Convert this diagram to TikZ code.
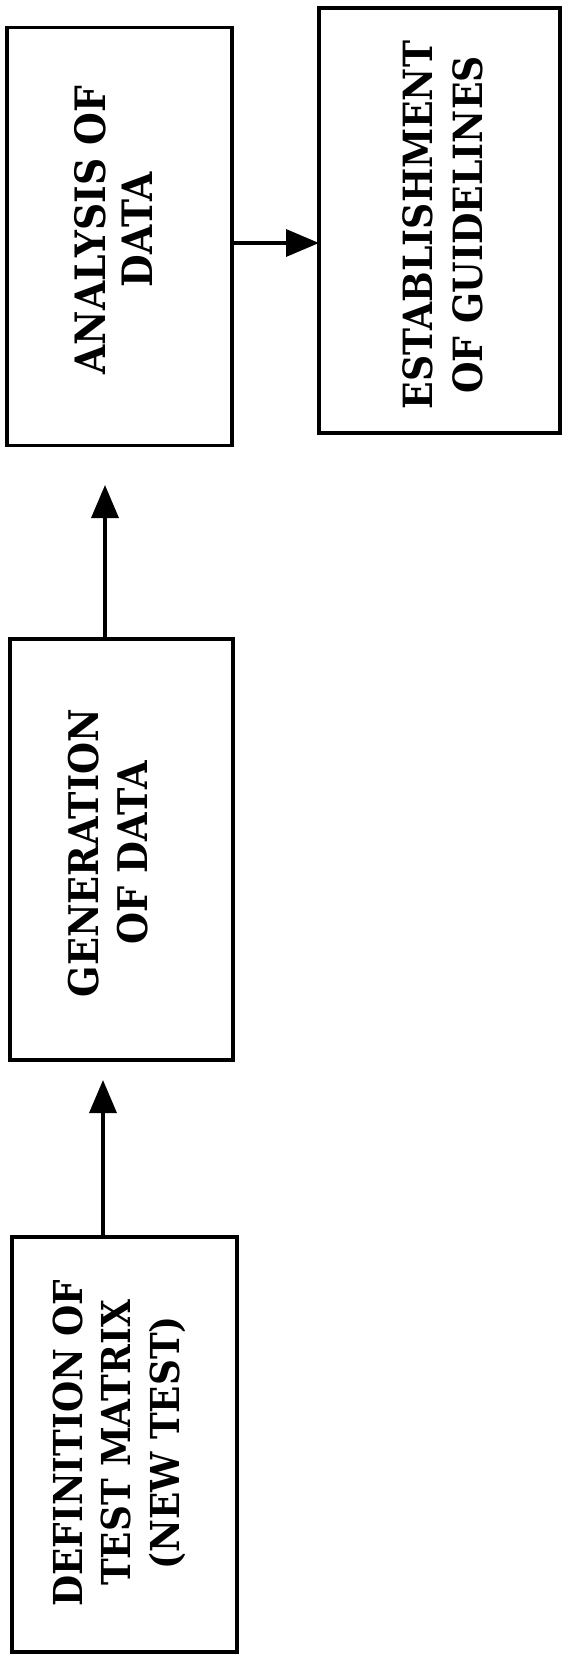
\documentclass[tikz,border=0pt]{standalone}
\usepackage{fontspec}
\setmainfont{DejaVu Serif}
\newfontfamily\labfont[FakeStretch=0.9]{DejaVu Serif}
\usetikzlibrary{arrows.meta}
\begin{document}
\begin{tikzpicture}[x=1bp,y=-1bp,
  box/.style={draw,line width=3.5bp,inner sep=0pt,outer sep=0pt},
  lbl/.style={rotate=90,align=center,inner sep=0pt},
  arr/.style={line width=3.5bp,-{Triangle[length=33bp,width=27bp]}}]
\useasboundingbox (0,0) rectangle (562,1655);
\fill[white] (0,0) rectangle (562,1655);
% boxes
\node[box,minimum width=225bp,minimum height=418bp] (ana) at (119.5,236.5) {};
\node[box,minimum width=241bp,minimum height=425bp] (est) at (439.5,220.5) {};
\node[box,minimum width=223bp,minimum height=421bp] (gen) at (121.5,849.5) {};
\node[box,minimum width=225bp,minimum height=415bp] (def) at (124.5,1444.5) {};
% labels
\node[lbl,font=\labfont\fontsize{42}{47}\selectfont\bfseries] (anatxt) at (113.5,230) {ANALYSIS OF\\DATA};
\node[lbl,font=\labfont\fontsize{40.4}{50}\selectfont\bfseries] (esttxt) at (443,225) {ESTABLISHMENT\\OF GUIDELINES};
\node[lbl,font=\labfont\fontsize{41}{49}\selectfont\bfseries] (gentxt) at (108,853) {GENERATION\\OF DATA};
\node[lbl,font=\labfont\fontsize{40}{48.5}\selectfont\bfseries] (deftxt) at (119,1443) {DEFINITION OF\\TEST MATRIX\\(NEW TEST)};
% connectors
\coordinate (t1) at (105,485);
\coordinate (t2) at (103,1080);
\coordinate (h) at (0,243);
\draw[arr] (gen.north -| t1) -- (t1);
\draw[arr] (def.north -| t2) -- (t2);
\draw[arr] (ana.east |- h) -- (est.west |- h);
\end{tikzpicture}
\end{document}
